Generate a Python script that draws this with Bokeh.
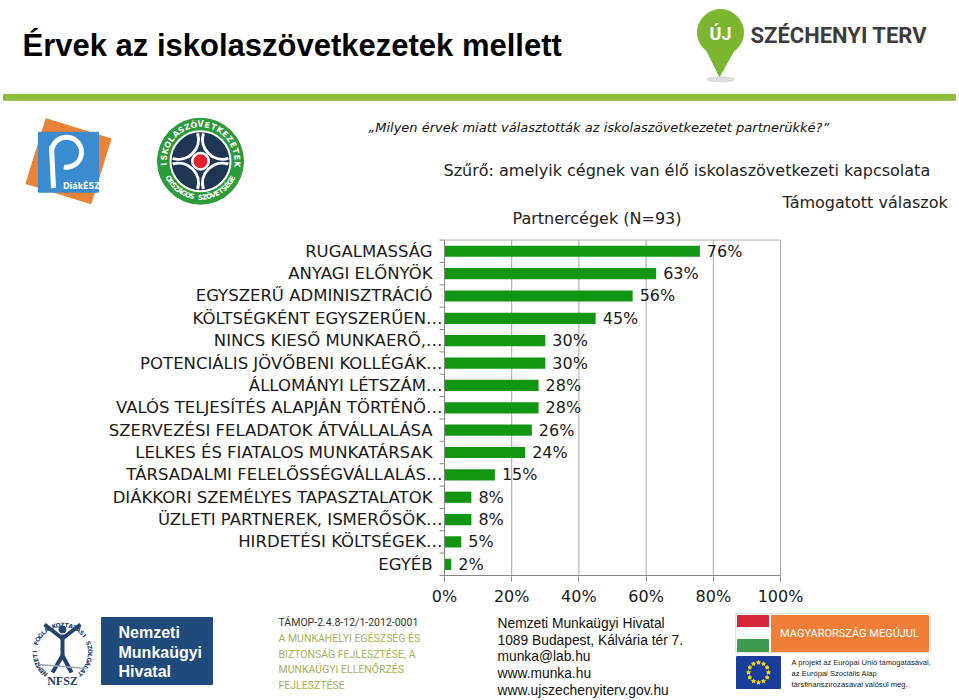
import math
from bokeh.plotting import figure
from bokeh.layouts import column
from bokeh.models import Range1d, FixedTicker, ColumnDataSource, LinearAxis
from bokeh.embed import file_html
from bokeh.resources import INLINE
from bokeh.core.properties import value

# ---------------- data ----------------
categories = [
    "RUGALMASSÁG",
    "ANYAGI ELŐNYÖK",
    "EGYSZERŰ ADMINISZTRÁCIÓ",
    "KÖLTSÉGKÉNT EGYSZERŰEN…",
    "NINCS KIESŐ MUNKAERŐ,…",
    "POTENCIÁLIS JÖVŐBENI KOLLÉGÁK…",
    "ÁLLOMÁNYI LÉTSZÁM…",
    "VALÓS TELJESÍTÉS ALAPJÁN TÖRTÉNŐ…",
    "SZERVEZÉSI FELADATOK ÁTVÁLLALÁSA",
    "LELKES ÉS FIATALOS MUNKATÁRSAK",
    "TÁRSADALMI FELELŐSSÉGVÁLLALÁS…",
    "DIÁKKORI SZEMÉLYES TAPASZTALATOK",
    "ÜZLETI PARTNEREK, ISMERŐSÖK…",
    "HIRDETÉSI KÖLTSÉGEK…",
    "EGYÉB",
]
values = [76, 63, 56, 45, 30, 30, 28, 28, 26, 24, 15, 8, 8, 5, 2]
x_ticks = [0, 20, 40, 60, 80, 100]
x_tick_labels = ["0%", "20%", "40%", "60%", "80%", "100%"]

title_text = "Érvek az iskolaszövetkezetek mellett"
question_text = "„Milyen érvek miatt választották az iskolaszövetkezetet partnerükké?”"
filter_text = "Szűrő: amelyik cégnek van élő iskolaszövetkezeti kapcsolata"
supported_text = "Támogatott válaszok"
series_text = "Partnercégek (N=93)"
tamop_lines = ["TÁMOP-2.4.8-12/1-2012-0001", "A MUNKAHELYI EGÉSZSÉG ÉS",
               "BIZTONSÁG FEJLESZTÉSE, A", "MUNKAÜGYI ELLENŐRZÉS", "FEJLESZTÉSE"]
address_lines = ["Nemzeti Munkaügyi Hivatal", "1089 Budapest, Kálvária tér 7.",
                 "munka@lab.hu", "www.munka.hu", "www.ujszechenyiterv.gov.hu"]
eu_lines = ["A projekt az Európai Unió támogatásával,", "az Európai Szociális Alap",
            "társfinanszírozásával valósul meg."]

# ---------------- layout constants (page pixels) ----------------
W = 957
PAGE_L, PAGE_R = 0, W
FRAME_TOP, FRAME_BOT = 0, 577          # frame of the main figure
PLOT_L, PLOT_R, PLOT_T, PLOT_B = 444, 780, 240, 576   # chart plot area
MAIN_H = 608
FOOT_TOP, FOOT_BOT = 608, 698

FONT = value("DejaVu Sans")
GRAY_AX = "#868686"


def ring_text(f, cx, cy, r, txt, a0, a1, top=True, size="7px", color="white", bold=True):
    n = len(txt)
    xs, ys, angs = [], [], []
    for i, ch in enumerate(txt):
        a = math.radians(a0 + (a1 - a0) * (i + 0.5) / n)
        xs.append(cx + r * math.cos(a))
        ys.append(cy + r * math.sin(a))
        angs.append(a - math.pi / 2 if top else a - 3 * math.pi / 2)
    f.text(x=xs, y=ys, text=list(txt), angle=angs, text_align="center",
           text_baseline="middle", text_font=value("DejaVu Sans"), text_font_size=size,
           text_font_style="bold" if bold else "normal", text_color=color)


# ---------------- main figure: header + chart ----------------
main = figure(width=W, height=MAIN_H, x_range=Range1d(PAGE_L, PAGE_R),
              y_range=Range1d(FRAME_TOP, FRAME_BOT),
              output_backend="svg", toolbar_location=None,
              x_axis_location=None, y_axis_location=None)
main.min_border_left = 0
main.min_border_right = 0
main.min_border_top = 0
main.min_border_bottom = MAIN_H - (FRAME_BOT - FRAME_TOP)
main.grid.visible = False
main.outline_line_color = None
Y = lambda y: FRAME_TOP + FRAME_BOT - y   # page y (down) -> data y (up)

n = len(categories)
px_pct = (PLOT_R - PLOT_L) / 100.0
row_h = (PLOT_B - PLOT_T) / n
main.extra_x_ranges = {"pct": Range1d(-(PLOT_L - PAGE_L) / px_pct, 100 + (PAGE_R - PLOT_R) / px_pct)}
main.extra_y_ranges = {"rows": Range1d(-0.5 - (FRAME_BOT - PLOT_B) / row_h,
                                       -0.5 + (PLOT_B - FRAME_TOP) / row_h)}
R = dict(x_range_name="pct", y_range_name="rows")

# header
main.text(x=[22], y=[Y(45)], text=[title_text], text_font=value("Liberation Sans"),
          text_font_style="bold", text_font_size="31px", text_baseline="middle", text_color="black")
main.quad(left=3, right=955, top=Y(94), bottom=Y(100), color="#8dbb3e")

# Széchenyi logo
main.ellipse(x=720, y=Y(79), width=28, height=5, color="#d0d0d0", alpha=0.7)
main.patch([703, 737, 719], [Y(44), Y(44), Y(76)], color="#7cb530")
main.circle(x=720, y=Y(32), radius=23, color="#7cb530")
main.text(x=[720], y=[Y(33)], text=["ÚJ"], text_align="center", text_baseline="middle",
          text_font=value("Roboto"), text_font_style="bold", text_font_size="18px", text_color="white")
main.text(x=[750], y=[Y(35)], text=["SZÉCHENYI TERV"], text_baseline="middle",
          text_font=value("Roboto"), text_font_style="bold", text_font_size="22px", text_color="#3c3c3c")

# DiákÉSZ logo
main.rect(x=68, y=Y(161), width=68, height=68, angle=-0.30, color="#ea8238")
main.rect(x=68, y=Y(162), width=60, height=60, color="#3a8bd0")
main.line([51, 53], [Y(146), Y(188)], line_color="white", line_width=5)
main.arc(x=66, y=Y(152), radius=15, start_angle=-math.radians(100), end_angle=math.pi,
         direction="anticlock", line_color="white", line_width=5)
main.text(x=[81], y=[Y(186)], text=["DiákÉSZ"], text_align="center", text_baseline="middle",
          text_font=value("DejaVu Sans"), text_font_style="bold", text_font_size="8px", text_color="white")

# Iskolaszövetkezetek logo
cx, cy = 200, Y(161)
main.circle(x=cx, y=cy, radius=43, color="#2d9a3c")
main.circle(x=cx, y=cy, radius=30, fill_color="#1e3553", line_color="white", line_width=2)
for sx, sy in [(-1, 1), (1, 1), (-1, -1), (1, -1)]:
    face = math.atan2(-sy, -sx)
    main.arc(x=cx + 22 * sx, y=cy + 22 * sy, radius=20, start_angle=face - math.radians(62),
             end_angle=face + math.radians(62), line_color="white", line_width=3)
main.circle(x=cx, y=cy, radius=9, color="white")
main.circle(x=cx, y=cy, radius=6.5, color="#e0202a")
ring_text(main, cx, cy, 36.5, "ISKOLASZÖVETKEZETEK", 190, -10, top=True, size="8px")
ring_text(main, cx, cy, 36.5, "ORSZÁGOS SZÖVETSÉGE", 205, 335, top=False, size="7px")

main.text(x=[368], y=[Y(127)], text=[question_text], text_baseline="middle", text_font=FONT,
          text_font_style="italic", text_font_size="13px", text_color="#111111")
main.text(x=[443], y=[Y(170)], text=[filter_text], text_baseline="middle", text_font=FONT,
          text_font_size="16px", text_color="#222222")
main.text(x=[782], y=[Y(202)], text=[supported_text], text_baseline="middle", text_font=FONT,
          text_font_size="16px", text_color="#222222")
main.text(x=[512], y=[Y(218)], text=[series_text], text_baseline="middle", text_font=FONT,
          text_font_size="16px", text_color="#222222")

# chart
ys = list(range(n - 1, -1, -1))
src = ColumnDataSource(dict(
    y=ys, v=values, cat=categories,
    lab=[f"{v}%" for v in values],
    off=[-2 if c.endswith("…") else -12 for c in categories],
))
top_row = n - 0.5
bottom_row = -0.5
# grid + plot-area border
main.segment(x0=x_ticks[1:], x1=x_ticks[1:], y0=bottom_row, y1=top_row,
             line_color="#a6a6a6", line_width=1, **R)
main.segment(x0=[x_ticks[0]], x1=[x_ticks[-1]], y0=top_row, y1=top_row,
             line_color="#b4b4b4", line_width=1, **R)
main.hbar(y="y", left=0, right="v", height=0.5, source=src, fill_color="#129612",
          line_color=None, **R)
main.text(x="v", y="y", text="lab", source=src, x_offset=7, text_baseline="middle",
          text_font=FONT, text_font_size="16px", text_color="#1a1a1a", **R)
# category axis
main.segment(x0=[x_ticks[0]], x1=[x_ticks[0]], y0=bottom_row, y1=top_row,
             line_color=GRAY_AX, line_width=1, **R)
main.segment(x0=[x_ticks[0]], x1=[x_ticks[-1]], y0=bottom_row, y1=bottom_row,
             line_color=GRAY_AX, line_width=1, **R)
main.ray(x=0, y=[i - 0.5 for i in range(n + 1)], length=5, length_units="screen",
         angle=math.pi, line_color=GRAY_AX, line_width=1, **R)
main.text(x=0, y="y", text="cat", source=src, x_offset="off", text_align="right",
          text_baseline="middle", text_font=FONT, text_font_size="16.5px",
          text_color="#1a1a1a", **R)

# value axis (library axis on the percent scale)
xa = LinearAxis(x_range_name="pct", ticker=FixedTicker(ticks=x_ticks))
xa.major_label_overrides = dict(zip(x_ticks, x_tick_labels))
xa.axis_line_color = None
xa.major_tick_out = 5
xa.major_tick_in = 0
xa.minor_tick_line_color = None
xa.major_tick_line_color = GRAY_AX
xa.major_label_standoff = 5
xa.major_label_text_font = "DejaVu Sans"
xa.major_label_text_font_size = "16px"
xa.major_label_text_color = "#1a1a1a"
main.add_layout(xa, "below")

# ---------------- footer figure ----------------
foot = figure(width=W, height=FOOT_BOT - FOOT_TOP, x_range=Range1d(PAGE_L, PAGE_R),
              y_range=Range1d(FOOT_TOP, FOOT_BOT), output_backend="svg", toolbar_location=None,
              x_axis_location=None, y_axis_location=None)
foot.min_border_left = foot.min_border_right = foot.min_border_top = foot.min_border_bottom = 0
foot.grid.visible = False
foot.outline_line_color = None
Y2 = lambda y: FOOT_TOP + FOOT_BOT - y

# NFSZ seal
ring_text(foot, 62, Y2(652), 28, "NEMZETI FOGLALKOZTATÁSI SZOLGÁLAT", 235, -55, top=True,
          size="6px", color="#24426f")
foot.circle(x=62, y=Y2(629), radius=3.5, color="#24426f")
foot.multi_line(xs=[[44, 62, 80], [62, 62], [52, 62, 71]],
                ys=[[Y2(624), Y2(638), Y2(624)], [Y2(634), Y2(655)], [Y2(672), Y2(655), Y2(672)]],
                line_color="#24426f", line_width=4)
foot.line([38, 86], [Y2(664), Y2(668)], line_color="#9aa8b8", line_width=1.5)
foot.text(x=[62], y=[Y2(680)], text=["NFSZ"], text_align="center", text_baseline="middle",
          text_font=value("Liberation Serif"), text_font_style="bold", text_font_size="12px",
          text_color="#24426f")
foot.quad(left=101, right=212, top=Y2(617), bottom=Y2(684), color="#1f4a7c")
foot.text(x=[118] * 3, y=[Y2(632), Y2(652), Y2(671)], text=["Nemzeti", "Munkaügyi", "Hivatal"],
          text_baseline="middle", text_font=value("Liberation Sans"), text_font_style="bold",
          text_font_size="16px", text_color="white")

# TÁMOP block
tys = [Y2(622 + 15.8 * i) for i in range(len(tamop_lines))]
foot.text(x=[278] * len(tamop_lines), y=tys, text=tamop_lines, text_baseline="middle",
          text_font=value("Roboto"), text_font_size="10.5px",
          text_color=["#333333"] + ["#a2b357"] * (len(tamop_lines) - 1))

# address block
ays = [Y2(623 + 16.7 * i) for i in range(len(address_lines))]
foot.text(x=[497] * len(address_lines), y=ays, text=address_lines, text_baseline="middle",
          text_font=value("Liberation Sans"), text_font_size="13.8px", text_color="#111111")

# Magyarország megújul banner
foot.quad(left=735, right=930, top=Y2(613), bottom=Y2(652), fill_color=None, line_color="#e2e2e2")
foot.quad(left=737, right=768, top=Y2(615), bottom=Y2(627), color="#d7283a")
foot.quad(left=737, right=768, top=Y2(627), bottom=Y2(639), color="white")
foot.quad(left=737, right=768, top=Y2(639), bottom=Y2(651), color="#3e9a4c")
foot.quad(left=771, right=928, top=Y2(615), bottom=Y2(651), color="#ef7f37")
foot.text(x=[849], y=[Y2(633)], text=["MAGYARORSZÁG MEGÚJUL"], text_align="center",
          text_baseline="middle", text_font=value("Roboto"), text_font_size="11px",
          text_color="white")

# EU flag
foot.quad(left=736, right=780, top=Y2(656), bottom=Y2(688), color="#1a3d9c")
foot.scatter(x=[758 + 10 * math.cos(2 * math.pi * k / 12) for k in range(12)],
             y=[Y2(672) + 10 * math.sin(2 * math.pi * k / 12) for k in range(12)],
             marker="star", size=4, color="#ffdd00")
eys = [Y2(662 + 11 * i) for i in range(len(eu_lines))]
foot.text(x=[791] * len(eu_lines), y=eys, text=eu_lines, text_baseline="middle",
          text_font=value("Liberation Sans"), text_font_size="7.6px", text_color="#222222")

layout = column(main, foot, spacing=0)
open("out.html", "w").write(file_html(layout, INLINE))
